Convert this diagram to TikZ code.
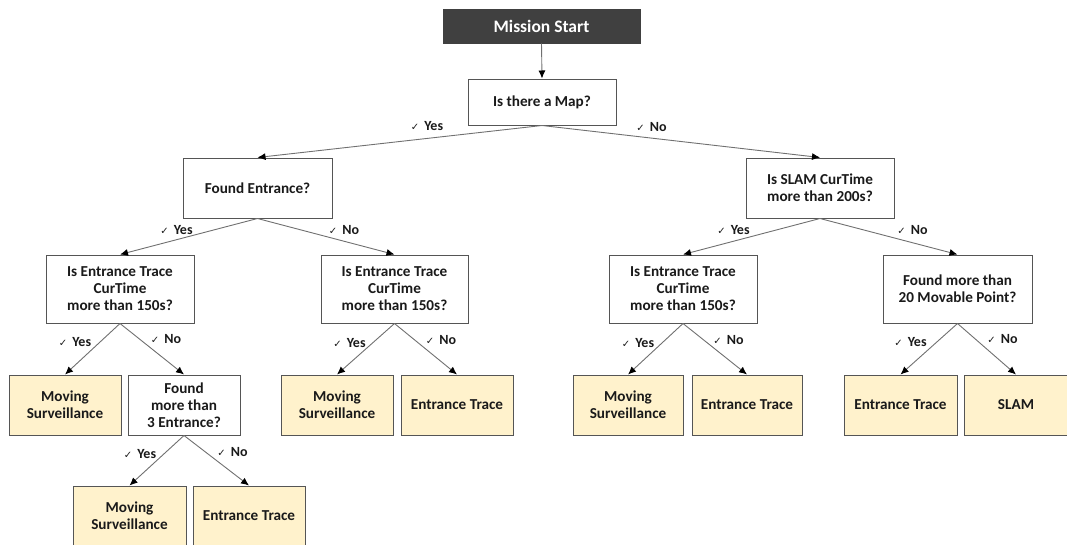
\documentclass[tikz,border=0pt]{standalone}
\usepackage{fontspec}
\setmainfont{Carlito}
\newfontfamily\chkfont{DejaVu Sans}
\usetikzlibrary{arrows.meta}

\definecolor{startfill}{HTML}{404040}
\definecolor{leaffill}{HTML}{FFF2CC}
\definecolor{boxline}{HTML}{555555}
\definecolor{linkline}{HTML}{707070}
\definecolor{txt}{HTML}{1A1A1A}

\tikzset{
  basebox/.style={draw=boxline, line width=1pt, align=center, inner sep=2pt,
    font=\fontsize{15.2}{17}\selectfont\bfseries, text=txt},
  startbox/.style={basebox, fill=startfill, draw=startfill, text=white,
    font=\fontsize{17.5}{20}\selectfont\bfseries},
  askbox/.style={basebox, fill=white},
  leafbox/.style={basebox, fill=leaffill},
  link/.style={draw=linkline, line width=0.9pt,
    -{Latex[length=8pt,width=7pt,color=black]}},
  ans/.style={font=\fontsize{14}{16}\selectfont\bfseries, text=txt, inner sep=0pt}
}
\newcommand{\yesno}[1]{{\chkfont\fontsize{10}{12}\selectfont\mdseries ✓}\hspace{5pt}#1}

\begin{document}
\begin{tikzpicture}[x=1pt, y=-1pt]
  \useasboundingbox (0,0) rectangle (1067,544);
  \clip (0,0) rectangle (1067,544);

  % start and first question
  \node[startbox, minimum width=197pt, minimum height=34pt] (start) at (541.5,26) {Mission Start};
  \node[askbox, minimum width=148pt, minimum height=46pt] (map) at (542,102) {Is there a Map?};

  % second level
  \node[askbox, minimum width=149pt, minimum height=60pt] (fe) at (257.5,188) {Found Entrance?};
  \node[askbox, minimum width=148pt, minimum height=60pt] (slam) at (820,188) {Is SLAM CurTime\\more than 200s?};

  % third level
  \node[askbox, minimum width=148pt, minimum height=68pt] (etA) at (120,289) {Is Entrance Trace\\CurTime\\more than 150s?};
  \node[askbox, minimum width=147pt, minimum height=68pt] (etB) at (394.5,289) {Is Entrance Trace\\CurTime\\more than 150s?};
  \node[askbox, minimum width=148pt, minimum height=68pt] (etC) at (683,289) {Is Entrance Trace\\CurTime\\more than 150s?};
  \node[askbox, minimum width=149pt, minimum height=68pt] (fmp) at (957.5,289) {Found more than\\20 Movable Point?};

  % fourth level
  \node[leafbox, minimum width=112pt, minimum height=60pt] (msA) at (65,405) {Moving\\Surveillance};
  \node[askbox, minimum width=112pt, minimum height=60pt] (f3) at (184,405) {Found\\more than\\3 Entrance?};
  \node[leafbox, minimum width=112pt, minimum height=60pt] (msB) at (337,405) {Moving\\Surveillance};
  \node[leafbox, minimum width=112pt, minimum height=60pt] (trB) at (457,405) {Entrance Trace};
  \node[leafbox, minimum width=110pt, minimum height=60pt] (msC) at (628,405) {Moving\\Surveillance};
  \node[leafbox, minimum width=110pt, minimum height=60pt] (trC) at (747,405) {Entrance Trace};
  \node[leafbox, minimum width=113pt, minimum height=60pt] (trD) at (900.5,405) {Entrance Trace};
  \node[leafbox, minimum width=104pt, minimum height=60pt] (slamLeaf) at (1016,405) {SLAM};

  % fifth level
  \node[leafbox, minimum width=113pt, minimum height=60pt] (msD) at (129.5,516) {Moving\\Surveillance};
  \node[leafbox, minimum width=112pt, minimum height=60pt] (trE) at (249,516) {Entrance Trace};

  % connectors
  \draw[link] (start.south) -- (map.north);
  \draw[link] (map.south) -- (fe.north);
  \draw[link] (map.south) -- (slam.north);
  \draw[link] (fe.south) -- (etA.north);
  \draw[link] (fe.south) -- (etB.north);
  \draw[link] (slam.south) -- (etC.north);
  \draw[link] (slam.south) -- (fmp.north);
  \draw[link] (etA.south) -- (msA.north);
  \draw[link] (etA.south) -- (f3.north);
  \draw[link] (etB.south) -- (msB.north);
  \draw[link] (etB.south) -- (trB.north);
  \draw[link] (etC.south) -- (msC.north);
  \draw[link] (etC.south) -- (trC.north);
  \draw[link] (fmp.south) -- (trD.north);
  \draw[link] (fmp.south) -- (slamLeaf.north);
  \draw[link] (f3.south) -- (msD.north);
  \draw[link] (f3.south) -- (trE.north);

  % branch answers
  \node[ans] (mapY) at (427,126) {\yesno{Yes}};
  \node[ans] (mapN) at (651.5,127) {\yesno{No}};
  \node[ans] (feY) at (176.5,230) {\yesno{Yes}};
  \node[ans] (feN) at (344,230) {\yesno{No}};
  \node[ans] (slamY) at (733.5,230) {\yesno{Yes}};
  \node[ans] (slamN) at (912.5,230) {\yesno{No}};
  \node[ans] (etAY) at (75,342) {\yesno{Yes}};
  \node[ans] (etAN) at (166,339) {\yesno{No}};
  \node[ans] (etBY) at (349.5,343) {\yesno{Yes}};
  \node[ans] (etBN) at (441,340) {\yesno{No}};
  \node[ans] (etCY) at (638,343) {\yesno{Yes}};
  \node[ans] (etCN) at (728.5,340) {\yesno{No}};
  \node[ans] (fmpY) at (910.5,342) {\yesno{Yes}};
  \node[ans] (fmpN) at (1002.5,339) {\yesno{No}};
  \node[ans] (f3Y) at (140,454) {\yesno{Yes}};
  \node[ans] (f3N) at (232.5,452) {\yesno{No}};
\end{tikzpicture}
\end{document}
